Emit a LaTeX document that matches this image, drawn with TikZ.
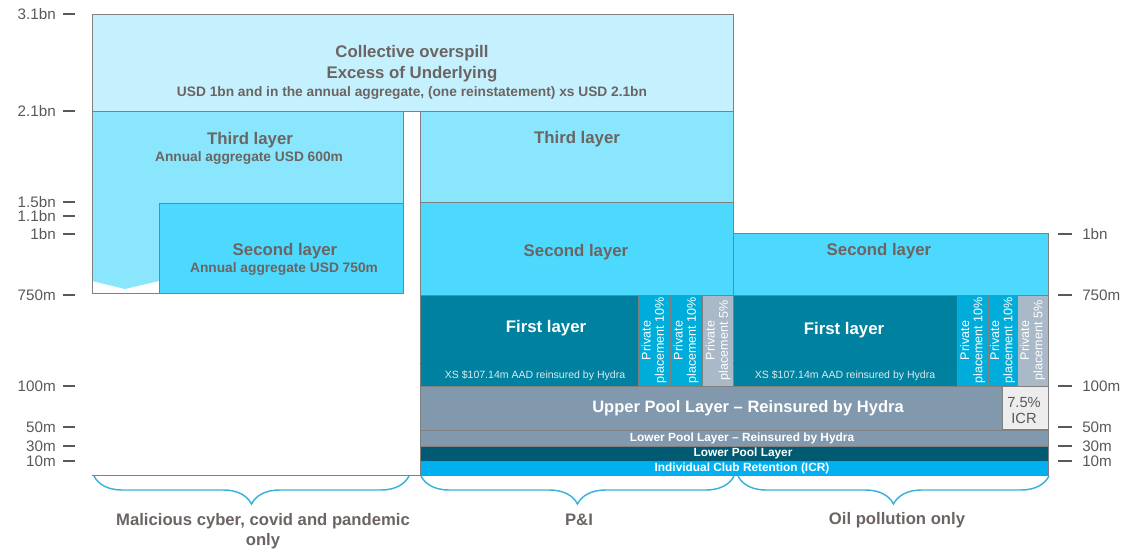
\documentclass[tikz,border=0pt]{standalone}
\usepackage{fontspec}
\setmainfont{Liberation Sans}
\usetikzlibrary{decorations.pathreplacing}
\definecolor{topblue}{HTML}{C5F1FE}
\definecolor{thirdblue}{HTML}{89E6FD}
\definecolor{secondblue}{HTML}{4DD9FD}
\definecolor{firstteal}{HTML}{0081A0}
\definecolor{stripline}{HTML}{2A6C82}
\definecolor{ppblue}{HTML}{00ADDA}
\definecolor{ppgrey}{HTML}{A9B9C7}
\definecolor{poolgrey}{HTML}{8298AD}
\definecolor{pooldark}{HTML}{005A72}
\definecolor{icrblue}{HTML}{00B0F0}
\definecolor{icrbox}{HTML}{EDEDED}
\definecolor{edgegrey}{HTML}{808080}
\definecolor{textgrey}{HTML}{6B6462}
\definecolor{axisgrey}{HTML}{595959}
\definecolor{bracecol}{HTML}{3AB2DA}

\begin{document}
\begin{tikzpicture}[x=0.75pt,y=-0.75pt,
  box/.style={draw=edgegrey,line width=0.7pt},
  layertitle/.style={text=textgrey,font=\fontsize{12.6}{15.75}\selectfont\bfseries,align=center,inner sep=0pt},
  layersub/.style={text=textgrey,font=\fontsize{10.3}{12}\selectfont\bfseries,inner sep=0pt},
  bandtext/.style={text=white,font=\fontsize{8.9}{10}\selectfont\bfseries,inner sep=0pt},
  pptext/.style={text=white,font=\fontsize{9.4}{9.8}\selectfont,align=center,rotate=90,inner sep=0pt},
  xstext/.style={text=white!85!firstteal,font=\fontsize{7.9}{9}\selectfont,inner sep=0pt},
  axistick/.style={draw=axisgrey,line width=1.1pt},
  axislab/.style={text=axisgrey,font=\fontsize{11.4}{12}\selectfont,inner sep=0pt},
  sectorlab/.style={text=textgrey,font=\fontsize{12.5}{15}\selectfont\bfseries,align=center,inner sep=0pt},
  curly/.style={draw=bracecol,line width=1.1pt,decorate,decoration={brace,mirror,amplitude=21pt}}]
  \useasboundingbox (0,0) rectangle (1121,551);

  % axes
  \foreach \y/\t in {14/3.1bn,111/2.1bn,202/1.5bn,216/1.1bn,234/1bn,295/750m,386/100m,427/50m,446/30m,461/10m}{
    \draw[axistick] (63,\y) -- (75,\y);
    \node[axislab,anchor=east] at (56,\y) {\t};
  }
  \foreach \y/\t in {234/1bn,295/750m,386/100m,427/50m,446/30m,461/10m}{
    \draw[axistick] (1058,\y) -- (1072,\y);
    \node[axislab,anchor=west] at (1082,\y) {\t};
  }

  % overspill
  \draw[box,fill=topblue] (92,14) rectangle (733,111);
  \node[layertitle] (overspill) at (412,63.5) {Collective overspill\\Excess of Underlying};
  \node[layersub] (overspillsub) at (412,93)
    {USD 1bn and in the annual aggregate, (one reinstatement) xs USD 2.1bn};

  % malicious cyber column
  \fill[thirdblue] (92,111) -- (403,111) -- (403,203) -- (159,203) -- (159,281) -- (125,289) -- (92,281) -- cycle;
  \draw[box] (92,111) rectangle (403,293);
  \node[layertitle] (cyberthird) at (250,140) {Third layer};
  \node[layersub] (cyberthirdsub) at (249,158) {Annual aggregate USD 600m};
  \draw[box,fill=secondblue] (159,203) rectangle (403,293);
  \node[layertitle] (cybersecond) at (285,251) {Second layer};
  \node[layersub] (cybersecondsub) at (284,269) {Annual aggregate USD 750m};
  \draw[edgegrey,line width=0.9pt] (92,475.5) -- (420,475.5);

  % P&I column
  \draw[box,fill=thirdblue] (420,111) rectangle (733,202);
  \node[layertitle] (pithird) at (577,139) {Third layer};
  \draw[box,fill=secondblue] (420,202) rectangle (733,295);
  \node[layertitle] (pisecond) at (576,252) {Second layer};
  \draw[box,fill=firstteal] (420,295) rectangle (638,386);
  \draw[stripline,line width=0.6pt] (420,363) -- (638,363);
  \node[layertitle,text=white] (pifirst) at (546,328) {First layer};
  \node[xstext] (pixs) at (535,376) {XS \$107.14m AAD reinsured by Hydra};
  \draw[box,fill=ppblue] (638,295) rectangle (670,386);
  \draw[box,fill=ppblue] (670,295) rectangle (702,386);
  \draw[box,fill=ppgrey] (702,295) rectangle (733,386);
  \node[pptext] (pippa) at (654,340.5) {Private\\placement 10\%};
  \node[pptext] (pippb) at (686,340.5) {Private\\placement 10\%};
  \node[pptext] (pippc) at (718,340.5) {Private\\placement 5\%};

  % oil pollution column
  \draw[box,fill=secondblue] (733,233) rectangle (1048,295);
  \node[layertitle] (oilsecond) at (879,251) {Second layer};
  \draw[box,fill=firstteal] (733,295) rectangle (957,386);
  \draw[stripline,line width=0.6pt] (733,363) -- (957,363);
  \node[layertitle,text=white] (oilfirst) at (844,330) {First layer};
  \node[xstext] (oilxs) at (845,376) {XS \$107.14m AAD reinsured by Hydra};
  \draw[box,fill=ppblue] (957,295) rectangle (988,386);
  \draw[box,fill=ppblue] (988,295) rectangle (1017,386);
  \draw[box,fill=ppgrey] (1017,295) rectangle (1048,386);
  \node[pptext] (oilppa) at (972.5,340.5) {Private\\placement 10\%};
  \node[pptext] (oilppb) at (1002.5,340.5) {Private\\placement 10\%};
  \node[pptext] (oilppc) at (1032.5,340.5) {Private\\placement 5\%};

  % pool layers
  \draw[box,fill=poolgrey] (420,386) rectangle (1048,430);
  \node[bandtext,font=\fontsize{12.4}{14}\selectfont\bfseries] (upperpool) at (748,408) {Upper Pool Layer \textendash{} Reinsured by Hydra};
  \draw[box,fill=icrbox] (1002,386) rectangle (1048,429);
  \node[axislab,align=center,font=\fontsize{11}{12}\selectfont] (icrshare) at (1024,410) {7.5\%\\ICR};
  \draw[box,fill=poolgrey] (420,430) rectangle (1048,446);
  \node[bandtext] (lowerpoolre) at (742,438) {Lower Pool Layer \textendash{} Reinsured by Hydra};
  \draw[box,fill=pooldark] (420,446) rectangle (1048,461);
  \node[bandtext] (lowerpool) at (743,453.5) {Lower Pool Layer};
  \draw[box,fill=icrblue] (420,461) rectangle (1048,475);
  \node[bandtext] (icr) at (742,468) {Individual Club Retention (ICR)};

  % braces
  \draw[curly] (94,476) -- (409,476);
  \draw[curly] (421,476) -- (734,476);
  \draw[curly] (738,476) -- (1049,476);
  \node[sectorlab] (cyber) at (263,531) {Malicious cyber, covid and pandemic\\only};
  \node[sectorlab] (pandi) at (579,520) {P\&I};
  \node[sectorlab] (oil) at (897,520) {Oil pollution only};
\end{tikzpicture}
\end{document}
